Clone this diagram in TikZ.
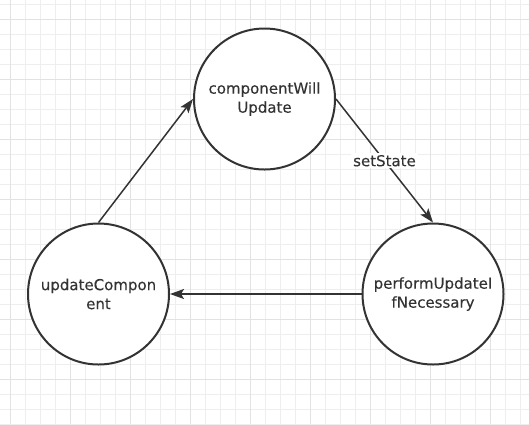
\documentclass[tikz,border=0pt]{standalone}
\usepackage{fontspec}
\setmainfont{DejaVu Sans}
\newfontfamily\nodefont[FakeBold=0.25]{DejaVu Sans}
\usetikzlibrary{arrows.meta}
\definecolor{ink}{HTML}{333333}
\definecolor{gridminor}{HTML}{EEEEEE}
\definecolor{gridmajor}{HTML}{E2E2E2}
\tikzset{
  state/.style={circle, draw=ink, line width=2pt, fill=white, minimum size=141pt, inner sep=0pt,
    align=center, text=ink, font=\nodefont\fontsize{15}{19}\selectfont},
  flow/.style={draw=ink, line width=1.5pt, -{Stealth[length=14pt, width=10pt, inset=3pt]}},
  lbl/.style={fill=white, text=ink, font=\nodefont\fontsize{15}{19}\selectfont, inner sep=2pt}
}
\begin{document}
\begin{tikzpicture}[x=1pt,y=-1pt]
\useasboundingbox (0,0) rectangle (529,424);
\fill[white] (0,0) rectangle (529,424);
\foreach \x in {-5,10,...,529} \draw[gridminor, line width=1pt] (\x,0) -- (\x,424);
\foreach \y in {4,19,...,424} \draw[gridminor, line width=1pt] (0,\y) -- (529,\y);
\foreach \x in {10,70,...,529} \draw[gridmajor, line width=1pt] (\x,0) -- (\x,424);
\foreach \y in {19,79,...,424} \draw[gridmajor, line width=1pt] (0,\y) -- (529,\y);
\node[state] (T) at (264.5,99) {componentWill\\Update};
\node[state] (L) at (98.5,294) {updateCompon\\ent};
\node[state] (R) at (433,294) {performUpdateI\\fNecessary};
\draw[flow] (L.north) -- (T.west);
\draw[flow] (T.east) -- node[lbl] {setState} (R.north);
\draw[flow] (R.west) -- (L.east);
\end{tikzpicture}
\end{document}
